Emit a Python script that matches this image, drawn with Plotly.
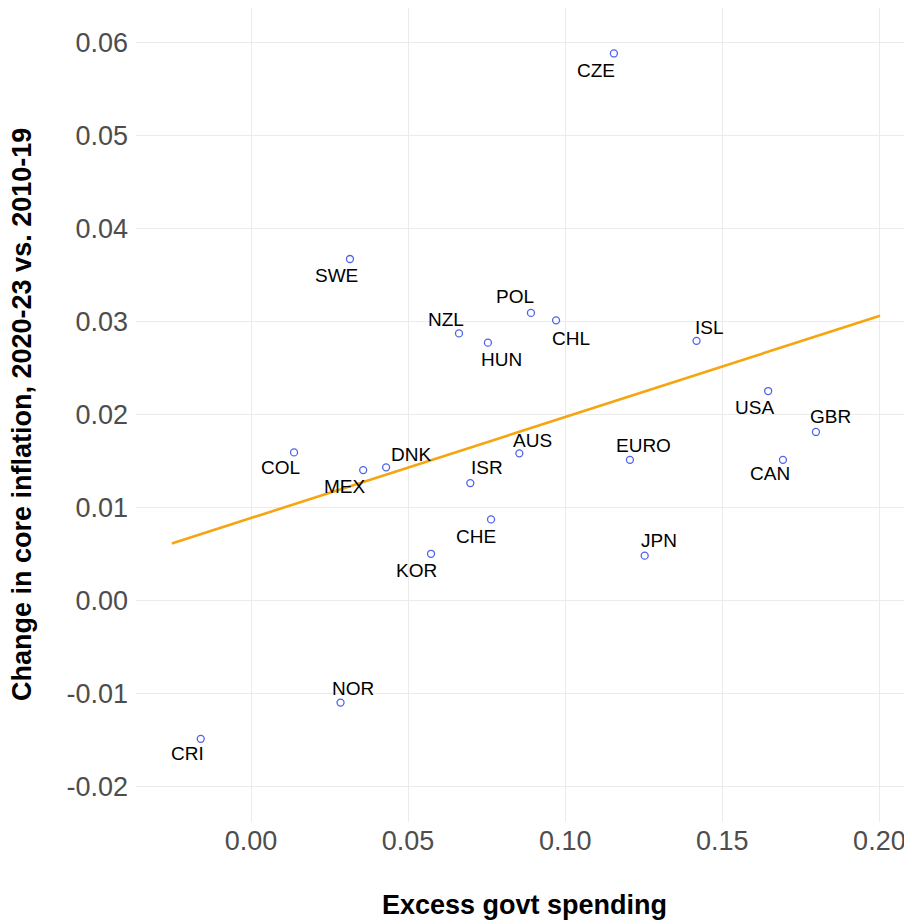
import plotly.graph_objects as go

# ---- data ----
countries = ["CZE", "SWE", "POL", "CHL", "NZL", "HUN", "COL", "MEX", "DNK", "ISR", "AUS",
             "CHE", "KOR", "EURO", "JPN", "ISL", "USA", "GBR", "CAN", "NOR", "CRI"]
excess_spending = [0.1155, 0.0315, 0.0891, 0.0971, 0.0662, 0.0754, 0.0137, 0.0357, 0.0430,
                   0.0698, 0.0854, 0.0764, 0.0573, 0.1206, 0.1253, 0.1418, 0.1646, 0.1798,
                   0.1693, 0.0285, -0.0160]
core_inflation_change = [0.0588, 0.0367, 0.0309, 0.0301, 0.0287, 0.0277, 0.0159, 0.0140,
                         0.0143, 0.0126, 0.0158, 0.0087, 0.0050, 0.0151, 0.0048, 0.0279,
                         0.0225, 0.0181, 0.0151, -0.0110, -0.0149]

fit_x = [-0.0252, 0.2002]
fit_y = [0.0061, 0.0306]

x_tickvals = [0.00, 0.05, 0.10, 0.15, 0.20]
x_ticktext = ["0.00", "0.05", "0.10", "0.15", "0.20"]
y_tickvals = [-0.02, -0.01, 0.00, 0.01, 0.02, 0.03, 0.04, 0.05, 0.06]
y_ticktext = ["-0.02", "-0.01", "0.00", "0.01", "0.02", "0.03", "0.04", "0.05", "0.06"]

# label offsets (pixels, dx right, dy down) – placement styling
label_offsets = {
    "CZE": (-18, 17), "SWE": (-13, 17), "POL": (-15.5, -16.3), "CHL": (15, 18),
    "NZL": (-13.5, -14), "HUN": (13.3, 16.4), "COL": (-14, 14.7), "MEX": (-18.5, 16.7),
    "DNK": (25, -13.3), "ISR": (17, -16), "AUS": (13, -12.7), "CHE": (-14.7, 17.3),
    "KOR": (-14.3, 17), "EURO": (13.7, -14.3), "JPN": (14, -15), "ISL": (13.3, -13),
    "USA": (-13.3, 16), "GBR": (14.8, -15), "CAN": (-13.3, 13.7), "NOR": (12.6, -14.4),
    "CRI": (-13.2, 14.3),
}

FONT = "Liberation Sans, Arial, Helvetica, sans-serif"

# the page body adds an 8px margin; lay out in reference-pixel terms minus that offset
OFF = 8
REF_W, REF_H = 912, 924
W, H = REF_W - OFF, REF_H - OFF

ref_left, ref_right, ref_top, ref_bottom = 136, 912, 8, 822
L = ref_left - OFF
R = 0
T = ref_top - OFF
B = REF_H - ref_bottom
plot_w = W - L - R
plot_h = H - T - B

px_per_x = 3142.0
px_per_y = 9300.0
x0_px = 251.0   # reference pixel of x = 0
y0_px = 600.3   # reference pixel of y = 0

fig = go.Figure()
fig.add_trace(go.Scatter(
    x=fit_x, y=fit_y, mode="lines",
    line=dict(color="#F5A50F", width=2.6),
    hoverinfo="skip", showlegend=False,
))
fig.add_trace(go.Scatter(
    x=excess_spending, y=core_inflation_change, mode="markers",
    marker=dict(symbol="circle-open", size=7, color="#4F63EA", line=dict(width=1.3, color="#4F63EA")),
    text=countries, showlegend=False,
))

for c, xv, yv in zip(countries, excess_spending, core_inflation_change):
    dx, dy = label_offsets[c]
    fig.add_annotation(
        x=xv, y=yv, text=c, showarrow=False,
        xshift=dx, yshift=-dy,
        font=dict(family=FONT, size=19, color="black"),
    )

# axis titles as annotations
fig.add_annotation(
    text="<b>Excess govt spending</b>", xref="paper", yref="paper",
    x=(524 - ref_left) / (ref_right - ref_left), y=-(905 - ref_bottom) / plot_h, showarrow=False,
    xanchor="center", yanchor="middle",
    font=dict(family=FONT, size=27, color="black"),
)
fig.add_annotation(
    text="<b>Change in core inflation, 2020-23 vs. 2010-19</b>", xref="paper", yref="paper",
    x=(22 - ref_left) / plot_w, y=(ref_bottom - 415) / plot_h, showarrow=False, textangle=-90,
    xanchor="center", yanchor="middle",
    font=dict(family=FONT, size=27, color="black"),
)

fig.update_layout(
    width=W, height=H,
    margin=dict(l=L, r=R, t=T, b=B, pad=0),
    paper_bgcolor="white", plot_bgcolor="white",
    font=dict(family=FONT),
    xaxis=dict(
        range=[(ref_left - x0_px) / px_per_x, (ref_right - x0_px) / px_per_x],
        tickvals=x_tickvals, ticktext=x_ticktext,
        showgrid=True, gridcolor="#EBEBEB", gridwidth=1.1,
        zeroline=False, showline=False, ticks="",
        tickfont=dict(family=FONT, size=27, color="#4D4D4D"),
        ticklabelstandoff=0,
    ),
    yaxis=dict(
        range=[(y0_px - ref_bottom) / px_per_y, (y0_px - ref_top) / px_per_y],
        tickvals=y_tickvals, ticktext=y_ticktext,
        showgrid=True, gridcolor="#EBEBEB", gridwidth=1.1,
        zeroline=False, showline=False, ticks="",
        tickfont=dict(family=FONT, size=27, color="#4D4D4D"),
        ticklabelstandoff=7,
    ),
)

fig.write_html("out.html")
